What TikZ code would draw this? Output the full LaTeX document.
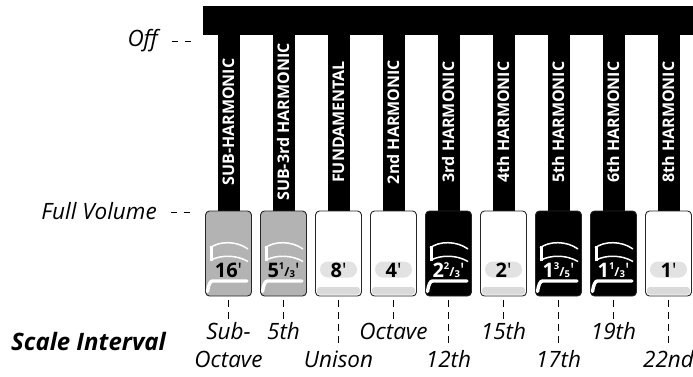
\documentclass[tikz,border=0pt]{standalone}
\usepackage{fontspec}
\setmainfont{Open Sans}
\newfontfamily\keyfont{Open Sans}[Ligatures=TeXOff]
\definecolor{keygray}{HTML}{B3B3B3}
\definecolor{pillgray}{HTML}{E2E2E2}
\definecolor{bandgray}{HTML}{DADADA}
\newcommand\kfr[2]{\raisebox{0.36em}{\fontsize{9.5}{9.5}\selectfont#1}\raisebox{0.03em}{\fontsize{12.5}{12.5}\selectfont/}{\fontsize{9.5}{9.5}\selectfont#2}}
\newcommand\kpr{{\mdseries\textquotesingle}}
\tikzset{
  barlabel/.style={rotate=90, anchor=center, text=white, inner sep=0pt,
    font=\bfseries\fontsize{16}{16}\selectfont, text height=11.4pt, text depth=0pt},
  keybox/.style={draw=black!85, line width=0.9pt, rounded corners=4pt,
    minimum width=46pt, minimum height=85pt, inner sep=0pt},
  keylab/.style={anchor=base, inner sep=0pt, font=\keyfont\bfseries\fontsize{20}{20}\selectfont},
  pill/.style={fill=pillgray, rounded corners=8pt, minimum width=37pt, minimum height=16pt, inner sep=0pt},
  ital/.style={inner sep=0pt, font=\itshape\fontsize{22.5}{22.5}\selectfont},
  sidedash/.style={line width=0.8pt, dash pattern=on 6.5pt off 6.5pt},
  scaledash/.style={line width=0.8pt, dash pattern=on 7pt off 5pt},
}
% decoration lines of a pressed drawbar face
\newcommand\facelines[2]{%
  \draw[#2, line width=1.5pt] (#1-18.5,248) .. controls (#1-10,241) and (#1+8,240.5) .. (#1+19.5,249);
  \draw[#2, line width=3pt] (#1-17.5,246) -- (#1-17.5,261);
  \draw[#2, line width=1.5pt] (#1-17.5,260) .. controls (#1-8,255) and (#1+8,254.5) .. (#1+19.5,261.5);
  \draw[#2, line width=3.4pt, line cap=round] (#1+18.5,281) -- (#1-16,281) .. controls (#1-18.5,281) and (#1-20,285) .. (#1-21,291.5);
}
\newcommand\darkkey[5]{% name, cx, fill, line colour, label
  \node[keybox, fill=#3] (#1) at (#2,253.5) {};
  \facelines{#2}{#4}
  \node[keylab, text=#4] (#1l) at (#2,277) {#5};
}
\newcommand\lightkey[3]{% name, cx, label
  \node[keybox, fill=white] (#1) at (#2,253.5) {};
  \fill[bandgray, rounded corners=3pt] (#2-21.5,287) rectangle (#2+21.5,294.6);
  \node[pill] (#1p) at (#2,269.5) {};
  \node[keylab, text=black] (#1l) at (#2,277) {#3};
}
\begin{document}
\begin{tikzpicture}[x=1pt,y=-1pt]
\useasboundingbox (0,0) rectangle (693,376);
% top bar and drawbar shafts
\fill[black] (203,6) rectangle (693,35);
\foreach \cx in {228.5,283.5,338.5,393.5,448.5,503.5,558.5,613.5,668.5}
  \fill[black] (\cx-11,34) rectangle (\cx+11,213);
% shaft labels
\node[barlabel] (b1) at (228.5,122) {SUB-HARMONIC};
\node[barlabel] (b2) at (283.5,122) {SUB-3rd HARMONIC};
\node[barlabel] (b3) at (338.5,122) {FUNDAMENTAL};
\node[barlabel] (b4) at (393.5,122) {2nd HARMONIC};
\node[barlabel] (b5) at (448.5,122) {3rd HARMONIC};
\node[barlabel] (b6) at (503.5,122) {4th HARMONIC};
\node[barlabel] (b7) at (558.5,122) {5th HARMONIC};
\node[barlabel] (b8) at (613.5,122) {6th HARMONIC};
\node[barlabel] (b9) at (668.5,122) {8th HARMONIC};
% keys
\darkkey{k1}{228.5}{keygray}{white}{\textcolor{black}{16\kpr}}
\darkkey{k2}{283.5}{keygray}{white}{\textcolor{black}{5\kfr{1}{3}\kpr}}
\lightkey{k3}{338.5}{8\kpr}
\lightkey{k4}{393.5}{4\kpr}
\darkkey{k5}{448.5}{black}{white}{2\kfr{2}{3}\kpr}
\lightkey{k6}{503.5}{2\kpr}
\darkkey{k7}{558.5}{black}{white}{1\kfr{3}{5}\kpr}
\darkkey{k8}{613.5}{black}{white}{1\kfr{1}{3}\kpr}
\lightkey{k9}{668.5}{1\kpr}
% side labels
\node[ital, anchor=base east] (off) at (158,46) {Off};
\draw[sidedash] ([xshift=13.5pt,yshift=-1pt]off.east) -- ++(21,0);
\node[ital, anchor=base east] (full) at (157,219) {Full Volume};
\draw[sidedash] ([xshift=13.5pt,yshift=-2pt]full.east) -- ++(21,0);
\node[inner sep=0pt, anchor=base west, font=\bfseries\itshape\fontsize{24}{24}\selectfont] (scale) at (11,350) {Scale Interval};
% scale interval labels
\node[ital, anchor=base] (s1a) at (228.5,339) {Sub-};
\node[ital, anchor=base] (s1b) at (228.5,367) {Octave};
\node[ital, anchor=base] (s2) at (283.5,339) {5th};
\node[ital, anchor=base] (s3) at (338.5,367) {Unison};
\node[ital, anchor=base] (s4) at (393.5,339) {Octave};
\node[ital, anchor=base] (s5) at (448.5,367) {12th};
\node[ital, anchor=base] (s6) at (503.5,339) {15th};
\node[ital, anchor=base] (s7) at (558.5,367) {17th};
\node[ital, anchor=base] (s8) at (613.5,339) {19th};
\node[ital, anchor=base] (s9) at (668.5,367) {22nd};
% dashed leaders
\foreach \k in {k1,k2,k4,k6,k8}
  \draw[scaledash] ([yshift=-4pt]\k.south) -- ++(0,20);
\foreach \k in {k3,k5,k7,k9}
  \draw[scaledash] ([yshift=-4pt]\k.south) -- ++(0,43);
\end{tikzpicture}
\end{document}
